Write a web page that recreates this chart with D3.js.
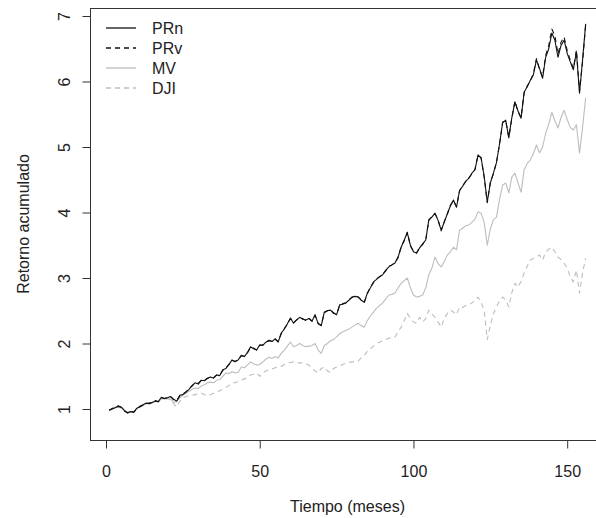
<!DOCTYPE html>
<html>
<head>
<meta charset="utf-8">
<script src="https://cdn.jsdelivr.net/npm/d3@7"></script>
<style>
  html, body { margin: 0; padding: 0; background: #fff; }
  svg { display: block; }
  text { font-family: "Liberation Sans", Arial, sans-serif; fill: #222; }
</style>
</head>
<body>
<svg id="chart" width="596" height="518"></svg>
<script>
// Cumulative return by month for each portfolio and the index
const seriesNames = ["PRn", "PRv", "MV", "DJI"];
const xTicks = [0, 50, 100, 150];
const yTicks = [1, 2, 3, 4, 5, 6, 7];

const PRn = [
  0.98, 1.00, 1.02, 1.04, 1.03, 0.98, 0.94, 0.96, 0.95, 1.01,
  1.03, 1.06, 1.09, 1.08, 1.10, 1.12, 1.11, 1.18, 1.16, 1.17,
  1.19, 1.15, 1.12, 1.21, 1.22, 1.26, 1.30, 1.36, 1.40, 1.38,
  1.44, 1.43, 1.47, 1.49, 1.47, 1.52, 1.51, 1.60, 1.62, 1.68,
  1.75, 1.72, 1.75, 1.82, 1.80, 1.86, 1.95, 1.92, 1.90, 1.98,
  1.97, 2.02, 2.05, 2.03, 2.07, 2.02, 2.16, 2.22, 2.30, 2.39,
  2.31, 2.36, 2.40, 2.37, 2.36, 2.38, 2.34, 2.44, 2.30, 2.27,
  2.48, 2.50, 2.51, 2.47, 2.44, 2.59, 2.60, 2.62, 2.66, 2.71,
  2.72, 2.71, 2.66, 2.63, 2.77, 2.85, 2.94, 2.98, 3.02, 3.05,
  3.12, 3.17, 3.20, 3.23, 3.32, 3.47, 3.58, 3.69, 3.50, 3.40,
  3.38, 3.46, 3.52, 3.58, 3.89, 3.93, 3.99, 3.88, 3.73, 3.85,
  3.98, 4.10, 4.19, 4.08, 4.34, 4.40, 4.48, 4.52, 4.60, 4.65,
  4.88, 4.83, 4.55, 4.16, 4.45, 4.60, 4.76, 5.05, 5.37, 5.41,
  5.14, 5.45, 5.69, 5.55, 5.44, 5.84, 5.92, 6.02, 6.10, 6.33,
  6.20, 6.05, 6.37, 6.50, 6.74, 6.63, 6.37, 6.55, 6.63, 6.43,
  6.30, 6.18, 6.45, 5.82, 6.33, 6.88
];

const PRv = [
  0.98, 1.01, 1.02, 1.05, 1.02, 0.97, 0.94, 0.97, 0.95, 1.00,
  1.04, 1.06, 1.08, 1.09, 1.10, 1.13, 1.11, 1.17, 1.16, 1.18,
  1.19, 1.14, 1.13, 1.20, 1.23, 1.26, 1.31, 1.35, 1.40, 1.39,
  1.44, 1.44, 1.47, 1.48, 1.48, 1.52, 1.52, 1.59, 1.63, 1.68,
  1.74, 1.73, 1.75, 1.81, 1.81, 1.86, 1.94, 1.93, 1.90, 1.97,
  1.98, 2.02, 2.04, 2.04, 2.07, 2.03, 2.15, 2.23, 2.30, 2.38,
  2.32, 2.36, 2.39, 2.38, 2.35, 2.39, 2.34, 2.43, 2.31, 2.28,
  2.47, 2.50, 2.52, 2.46, 2.45, 2.58, 2.61, 2.62, 2.67, 2.70,
  2.73, 2.71, 2.67, 2.63, 2.76, 2.86, 2.93, 2.99, 3.02, 3.06,
  3.11, 3.18, 3.20, 3.24, 3.31, 3.48, 3.57, 3.70, 3.49, 3.41,
  3.38, 3.47, 3.51, 3.59, 3.88, 3.94, 3.98, 3.89, 3.72, 3.86,
  3.97, 4.11, 4.18, 4.09, 4.33, 4.41, 4.47, 4.53, 4.59, 4.66,
  4.87, 4.84, 4.54, 4.15, 4.46, 4.59, 4.77, 5.04, 5.38, 5.40,
  5.15, 5.44, 5.70, 5.54, 5.45, 5.83, 5.93, 6.01, 6.12, 6.35,
  6.18, 6.07, 6.40, 6.55, 6.80, 6.70, 6.42, 6.60, 6.68, 6.47,
  6.33, 6.20, 6.48, 5.85, 6.30, 6.86
];

const MV = [
  0.98, 1.00, 1.03, 1.04, 1.02, 0.97, 0.95, 0.96, 0.96, 1.01,
  1.04, 1.07, 1.08, 1.09, 1.10, 1.12, 1.12, 1.16, 1.15, 1.17,
  1.15, 1.10, 1.12, 1.17, 1.21, 1.24, 1.27, 1.30, 1.32, 1.31,
  1.35, 1.37, 1.40, 1.41, 1.40, 1.44, 1.45, 1.50, 1.55, 1.54,
  1.57, 1.55, 1.56, 1.64, 1.63, 1.67, 1.72, 1.69, 1.67, 1.68,
  1.72, 1.76, 1.79, 1.77, 1.80, 1.78, 1.85, 1.90, 1.96, 2.02,
  1.95, 1.97, 2.00, 1.97, 1.95, 1.96, 1.97, 2.00, 1.90, 1.85,
  1.97, 2.00, 2.04, 2.06, 2.10, 2.15, 2.18, 2.20, 2.22, 2.25,
  2.28, 2.31, 2.27, 2.25, 2.35, 2.42, 2.48, 2.54, 2.58, 2.62,
  2.68, 2.74, 2.75, 2.77, 2.85, 2.92, 2.96, 3.00, 2.85, 2.74,
  2.71, 2.72, 2.74, 2.85, 3.05, 3.15, 3.32, 3.22, 3.17, 3.25,
  3.35, 3.40, 3.47, 3.43, 3.73, 3.76, 3.80, 3.81, 3.85, 3.90,
  4.01, 3.99, 3.85, 3.50, 3.75, 3.89, 3.93, 4.20, 4.42, 4.45,
  4.30, 4.54, 4.60, 4.45, 4.31, 4.65, 4.75, 4.80, 4.90, 5.03,
  4.91, 5.00, 5.21, 5.35, 5.53, 5.40, 5.29, 5.45, 5.56, 5.42,
  5.30, 5.26, 5.34, 4.91, 5.30, 5.75
];

const DJI = [
  0.98, 1.00, 1.02, 1.03, 1.01, 0.97, 0.95, 0.97, 0.96, 1.00,
  1.03, 1.05, 1.08, 1.07, 1.09, 1.11, 1.11, 1.15, 1.14, 1.16,
  1.14, 1.08, 1.03, 1.12, 1.17, 1.19, 1.20, 1.21, 1.22, 1.23,
  1.24, 1.22, 1.20, 1.22, 1.24, 1.26, 1.28, 1.30, 1.33, 1.36,
  1.40, 1.40, 1.42, 1.44, 1.46, 1.48, 1.52, 1.53, 1.55, 1.50,
  1.55, 1.58, 1.60, 1.61, 1.63, 1.64, 1.65, 1.68, 1.70, 1.71,
  1.72, 1.71, 1.70, 1.71, 1.69, 1.67, 1.62, 1.58, 1.55, 1.62,
  1.64, 1.58, 1.56, 1.62, 1.64, 1.66, 1.68, 1.70, 1.71, 1.72,
  1.72, 1.73, 1.78, 1.82, 1.88, 1.92, 1.96, 2.00, 2.02, 2.04,
  2.06, 2.08, 2.09, 2.10, 2.18, 2.25, 2.35, 2.46, 2.38, 2.33,
  2.31, 2.40, 2.33, 2.38, 2.51, 2.45, 2.40, 2.33, 2.25, 2.38,
  2.46, 2.51, 2.48, 2.44, 2.56, 2.55, 2.58, 2.59, 2.62, 2.65,
  2.71, 2.63, 2.50, 2.06, 2.28, 2.45, 2.56, 2.65, 2.71, 2.66,
  2.56, 2.78, 2.92, 2.86, 2.95, 3.08, 3.18, 3.27, 3.30, 3.32,
  3.35, 3.27, 3.40, 3.44, 3.47, 3.40, 3.32, 3.28, 3.23, 3.15,
  3.02, 2.94, 3.12, 2.77, 3.08, 3.30
];

const months = d3.range(1, PRn.length + 1);

const svg = d3.select("#chart");
const W = 596, H = 518;

// Plot region (frame extends slightly past the right edge)
const box = { left: 90, right: 605, top: 8, bottom: 440 };

const x = d3.scaleLinear().domain([0, 150]).range([106, 567.2]);
const y = d3.scaleLinear().domain([1, 7]).range([409, 16]);

const styles = {
  PRn: { color: "#111", dash: null },
  PRv: { color: "#111", dash: "5,4" },
  MV:  { color: "#bdbdbd", dash: null },
  DJI: { color: "#bdbdbd", dash: "5,4" }
};
const data = { PRn, PRv, MV, DJI };

// Frame
svg.append("rect")
  .attr("x", box.left + 0.5).attr("y", box.top + 0.5)
  .attr("width", box.right - box.left).attr("height", box.bottom - box.top)
  .attr("fill", "none").attr("stroke", "#333").attr("stroke-width", 1);

// X axis
const xAxis = svg.append("g")
  .attr("transform", `translate(0,${box.bottom + 0.5})`)
  .call(d3.axisBottom(x).tickValues(xTicks).tickSize(8).tickPadding(17));
xAxis.select(".domain").remove();
xAxis.selectAll(".tick line").attr("stroke", "#333");
xAxis.selectAll("text").attr("font-size", 16).attr("fill", "#222")
  .attr("font-family", "Liberation Sans, Arial, sans-serif");

// Y axis with rotated labels
const yAxis = svg.append("g")
  .attr("transform", `translate(${box.left + 0.5},0)`)
  .call(d3.axisLeft(y).tickValues(yTicks).tickSize(8).tickFormat(d3.format("d")));
yAxis.select(".domain").remove();
yAxis.selectAll(".tick line").attr("stroke", "#333");
yAxis.selectAll(".tick text")
  .attr("font-size", 16).attr("fill", "#222")
  .attr("font-family", "Liberation Sans, Arial, sans-serif")
  .attr("x", null).attr("dy", null)
  .attr("text-anchor", "middle")
  .attr("transform", "translate(-26,0) rotate(-90)")
  .attr("dy", "0.32em");

// Axis titles
svg.append("text")
  .attr("x", (box.left + box.right) / 2).attr("y", 512)
  .attr("text-anchor", "middle").attr("font-size", 16)
  .text("Tiempo (meses)");
svg.append("text")
  .attr("transform", `translate(29,${(box.top + box.bottom) / 2}) rotate(-90)`)
  .attr("text-anchor", "middle").attr("font-size", 16)
  .text("Retorno acumulado");

// Series lines, lighter ones first
const line = d3.line().x((d, i) => x(months[i])).y(d => y(d));
const clip = svg.append("clipPath").attr("id", "plotclip").append("rect")
  .attr("x", box.left).attr("y", box.top)
  .attr("width", box.right - box.left).attr("height", box.bottom - box.top);

const plot = svg.append("g").attr("clip-path", "url(#plotclip)");
["DJI", "MV", "PRv", "PRn"].forEach(name => {
  plot.append("path")
    .datum(data[name])
    .attr("d", line)
    .attr("fill", "none")
    .attr("stroke", styles[name].color)
    .attr("stroke-width", 1.1)
    .attr("stroke-dasharray", styles[name].dash)
    .attr("stroke-linejoin", "round");
});

// Legend
const legend = svg.append("g");
seriesNames.forEach((name, i) => {
  const ly = 28 + i * 20;
  legend.append("line")
    .attr("x1", 106).attr("x2", 136)
    .attr("y1", ly).attr("y2", ly)
    .attr("stroke", styles[name].color)
    .attr("stroke-width", 1.3)
    .attr("stroke-dasharray", styles[name].dash);
  legend.append("text")
    .attr("x", 152).attr("y", ly).attr("dy", "0.35em")
    .attr("font-size", 16)
    .text(name);
});
</script>
</body>
</html>
